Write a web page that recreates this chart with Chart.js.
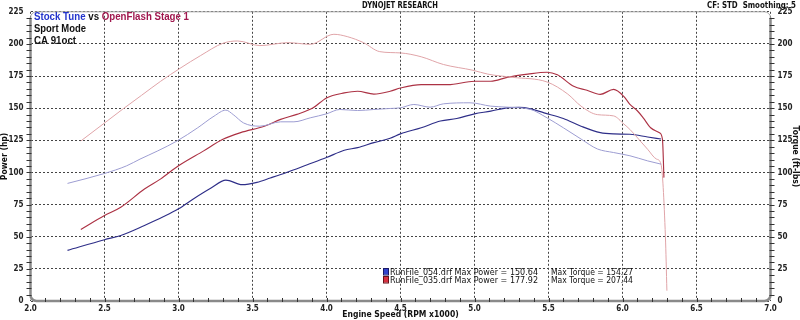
<!DOCTYPE html>
<html>
<head>
<meta charset="utf-8">
<script src="https://cdn.jsdelivr.net/npm/chart.js@4.4.1/dist/chart.umd.min.js"></script>
<style>
    html, body { margin: 0; padding: 0; background: #ffffff; }
    #Dyno_Chart { display: block; }
</style>
</head>
<body>
<canvas id="Dyno_Chart" width="800" height="320"></canvas>
<script>
// engine speed (RPM x1000) and readings
const Stock_Hp_Rpm = [2.25, 2.5, 2.61, 2.77, 2.9, 3.0, 3.1, 3.22, 3.32, 3.43, 3.53, 3.62, 3.73, 3.87, 4.0, 4.12, 4.21, 4.32, 4.43, 4.5, 4.64, 4.77, 4.88, 5.0, 5.11, 5.22, 5.3, 5.38, 5.47, 5.6, 5.72, 5.85, 5.94, 6.05, 6.17, 6.26];
const Stock_Hp = [39.4, 47.7, 51, 58.8, 65.7, 71.7, 79.4, 87.9, 94.1, 90.5, 92.3, 95.7, 100, 106, 111.6, 117.3, 119.3, 123.2, 126.6, 130, 134.8, 140, 142, 145.6, 147.7, 150.3, 150.6, 149.5, 146.4, 142, 136, 131, 130, 129.7, 127.6, 126];

const Stock_Tq_Rpm = [2.25, 2.5, 2.65, 2.74, 2.86, 2.99, 3.13, 3.24, 3.32, 3.37, 3.44, 3.55, 3.69, 3.78, 3.89, 4.0, 4.09, 4.21, 4.32, 4.43, 4.5, 4.59, 4.7, 4.79, 4.97, 5.11, 5.22, 5.38, 5.49, 5.6, 5.72, 5.83, 5.94, 6.05, 6.17, 6.26];
const Stock_Tq = [91.5, 99.2, 105.2, 110.4, 116.8, 124.5, 134.8, 143.8, 148.5, 145, 138.5, 136, 139.4, 139.4, 142.5, 145.6, 149, 148.2, 149, 149.8, 150.3, 152.9, 150.8, 153.4, 154.2, 151.6, 150.8, 149, 142.5, 134.8, 126, 118.3, 115.5, 113, 109, 106.5];

const Flash_Hp_Rpm = [2.34, 2.5, 2.61, 2.77, 2.88, 3.0, 3.17, 3.3, 3.42, 3.58, 3.69, 3.8, 3.91, 4.0, 4.12, 4.21, 4.32, 4.43, 4.5, 4.64, 4.82, 5.0, 5.11, 5.22, 5.36, 5.49, 5.56, 5.67, 5.76, 5.85, 5.94, 6.01, 6.05, 6.1, 6.14, 6.19, 6.25, 6.27, 6.28];
const Flash_Hp = [55.7, 66.5, 72.9, 87.1, 95, 105.2, 116.8, 125.8, 131, 136, 141.3, 145.2, 150.3, 158, 161.9, 163.2, 161, 163.2, 165.7, 168.3, 168.3, 171, 171, 174, 176.5, 178, 176, 167, 164, 160.8, 164.6, 159, 152.9, 148, 142.5, 134.8, 130.9, 125.8, 96];

const Flash_Tq_Rpm = [2.34, 2.49, 2.62, 2.75, 2.88, 3.01, 3.15, 3.3, 3.4, 3.55, 3.74, 3.89, 4.05, 4.14, 4.25, 4.36, 4.5, 4.64, 4.79, 4.99, 5.09, 5.26, 5.49, 5.63, 5.72, 5.83, 5.94, 6.01, 6.05, 6.12, 6.17, 6.23, 6.26, 6.29, 6.3];
const Flash_Tq = [124.5, 137.6, 149, 160, 171, 181, 191, 200.5, 202.3, 198.7, 201, 199.7, 207.5, 205.7, 201, 194, 193, 190, 184, 179.5, 176.5, 174, 170.4, 161, 151.6, 145, 144, 137.6, 133.5, 124.5, 118, 110.4, 106.5, 50, 8];

// axis ticks
const Rpm_Ticks = [2.0, 2.5, 3.0, 3.5, 4.0, 4.5, 5.0, 5.5, 6.0, 6.5, 7.0];
const Power_Ticks = [0, 25, 50, 75, 100, 125, 150, 175, 200, 225];

// legend rows
const Run_Files = ["RunFile_054.drf", "RunFile_035.drf"];
const Max_Power = [150.64, 177.92];
const Max_Torque = [154.27, 207.44];
const Notes = ["Sport Mode", "CA 91oct"];

function Pick_Font(Candidates, Fallback) {
    const Ctx = document.createElement("canvas").getContext("2d");
    const Sample = "Engine 0123 Speed";
    Ctx.font = "bold 20px monospace";
    const Base = Ctx.measureText(Sample).width;
    for (const Name of Candidates) {
        Ctx.font = 'bold 20px "' + Name + '", monospace';
        if (Ctx.measureText(Sample).width !== Base) return '"' + Name + '", "DejaVu Sans", sans-serif';
    }
    return Fallback;
}

const Narrow_Font = Pick_Font(["DejaVu Sans Condensed", "Liberation Sans Narrow"], '"DejaVu Sans", sans-serif');

// draws a run of coloured pieces, squeezed sideways to fit Width
function Draw_Fit(Ctx, Parts, X, Y, Font, Width, Align) {
    Ctx.font = Font;
    let Total = 0;
    for (const P of Parts) Total += Ctx.measureText(P[0]).width;
    const Sx = Width ? Math.min(1, Width / Total) : 1;
    let Start = X;
    if (Align === "center") Start = X - Total * Sx / 2;
    if (Align === "right") Start = X - Total * Sx;
    Ctx.save();
    Ctx.translate(Start, Y);
    Ctx.scale(Sx, 1);
    Ctx.textBaseline = "alphabetic";
    Ctx.textAlign = "left";
    let Cx = 0;
    for (const P of Parts) {
        Ctx.fillStyle = P[1];
        Ctx.fillText(P[0], Cx, 0);
        Cx += Ctx.measureText(P[0]).width;
    }
    Ctx.restore();
}

const Frame_Plugin = {
    id: "dyno_frame",
    afterDraw(Chart_Obj) {
        const Ctx = Chart_Obj.ctx;
        const A = Chart_Obj.chartArea;
        const X = Chart_Obj.scales.x;
        const Y = Chart_Obj.scales.y;
        Ctx.save();

        // thin outline with rounded corners
        Ctx.strokeStyle = "#a0a0a0";
        Ctx.lineWidth = 1;
        Ctx.beginPath();
        Ctx.roundRect(A.left, A.top, A.right - A.left, A.bottom - A.top, 6);
        Ctx.stroke();

        // heavy grey axes
        Ctx.strokeStyle = "#8a8a8a";
        Ctx.lineWidth = 2.5;
        Ctx.beginPath();
        Ctx.moveTo(A.left, A.top + 6);
        Ctx.arcTo(A.left, A.bottom, A.left + 6, A.bottom, 6);
        Ctx.arcTo(A.right, A.bottom, A.right, A.bottom - 6, 6);
        Ctx.lineTo(A.right, A.top + 6);
        Ctx.stroke();

        // minor ticks
        Ctx.strokeStyle = "#333333";
        Ctx.lineWidth = 1;
        Ctx.beginPath();
        for (let V = Y.min + 5; V < Y.max; V += 5) {
            const Py = Math.round(Y.getPixelForValue(V)) + 0.5;
            Ctx.moveTo(A.left - 4, Py); Ctx.lineTo(A.left + 1, Py);
            Ctx.moveTo(A.right - 1, Py); Ctx.lineTo(A.right + 4, Py);
        }
        for (let I = 1; I < 50; I++) {
            const Px = Math.round(X.getPixelForValue(X.min + I * 0.1)) + 0.5;
            Ctx.moveTo(Px, A.bottom - 3); Ctx.lineTo(Px, A.bottom + 1);
        }
        Ctx.stroke();

        // header texts
        Draw_Fit(Ctx, [["DYNOJET RESEARCH", "#111"]], 400, 8, "bold 8px 'DejaVu Sans'", 76, "center");
        Draw_Fit(Ctx, [["CF: STD  Smoothing: 5", "#111"]], 707, 8, "bold 8px 'DejaVu Sans'", 89, "left");

        // run description in the corner
        const Note_Font = "bold 11px 'Liberation Sans', Arial, sans-serif";
        Draw_Fit(Ctx, [["Stock Tune", "#2233cc"], [" vs ", "#111"], ["OpenFlash Stage 1", "#a0184e"]], 34, 19.5, Note_Font, 155, "left");
        Draw_Fit(Ctx, [[Notes[0], "#111"]], 34, 31.5, Note_Font, 52, "left");
        Draw_Fit(Ctx, [[Notes[1], "#111"]], 34, 43.5, Note_Font, 42, "left");

        // run legend
        const Box_Colors = [["#3344cc", "#1a1a66"], ["#d83040", "#661018"]];
        const Leg_Font = "8.5px 'DejaVu Sans', sans-serif";
        for (let I = 0; I < Run_Files.length; I++) {
            const By = 274.5 + I * 8;
            Ctx.fillStyle = Box_Colors[I][0];
            Ctx.strokeStyle = Box_Colors[I][1];
            Ctx.fillRect(384, By - 5.5, 4, 5.5);
            Ctx.strokeRect(383.5, By - 6, 5, 6.5);
            Draw_Fit(Ctx, [[Run_Files[I] + " Max Power = " + Max_Power[I].toFixed(2), "#111"]], 390, By, Leg_Font, 148, "left");
            Draw_Fit(Ctx, [["Max Torque = " + Max_Torque[I].toFixed(2), "#111"]], 551, By, Leg_Font, 82, "left");
        }
        Ctx.restore();
    }
};

function Make_Series(Label, Rpm, Values, Color, Width, Axis) {
    return {
        label: Label,
        data: Rpm.map(function (R, I) { return { x: R, y: Values[I] }; }),
        borderColor: Color,
        borderWidth: Width,
        pointRadius: 0,
        fill: false,
        cubicInterpolationMode: "monotone",
        yAxisID: Axis
    };
}

const Tick_Font = { family: Narrow_Font, size: 8, weight: "bold" };
const Title_Font = { family: Narrow_Font, size: 8.5, weight: "bold" };

new Chart(document.getElementById("Dyno_Chart"), {
    type: "line",
    data: {
        datasets: [
            Make_Series("Stock Torque", Stock_Tq_Rpm, Stock_Tq, "#9d9dd2", 1, "y2"),
            Make_Series("OpenFlash Torque", Flash_Tq_Rpm, Flash_Tq, "#e0a4a8", 1, "y2"),
            Make_Series("Stock Power", Stock_Hp_Rpm, Stock_Hp, "#2e2e88", 1.15, "y"),
            Make_Series("OpenFlash Power", Flash_Hp_Rpm, Flash_Hp, "#ac3244", 1.15, "y")
        ]
    },
    options: {
        responsive: false,
        animation: false,
        devicePixelRatio: 1,
        layout: { padding: { top: 11.5, left: 0, right: 0, bottom: 0 } },
        plugins: { legend: { display: false }, tooltip: { enabled: false } },
        scales: {
            x: {
                type: "linear",
                min: Rpm_Ticks[0],
                max: Rpm_Ticks[Rpm_Ticks.length - 1],
                afterBuildTicks: function (S) { S.ticks = Rpm_Ticks.map(function (V) { return { value: V }; }); },
                afterFit: function (S) { S.height = 19; },
                ticks: {
                    autoSkip: false, maxRotation: 0, padding: 3, color: "#222",
                    font: Tick_Font,
                    callback: function (V) { return Number(V).toFixed(1); }
                },
                grid: { color: "#444", lineWidth: 1, drawTicks: false },
                border: { display: false, dash: [2, 2] },
                title: { display: true, text: "Engine Speed (RPM x1000)", color: "#111", font: Title_Font, padding: 0 }
            },
            y: {
                position: "left",
                min: Power_Ticks[0],
                max: Power_Ticks[Power_Ticks.length - 1],
                afterBuildTicks: function (S) { S.ticks = Power_Ticks.map(function (V) { return { value: V }; }); },
                afterFit: function (S) { S.width = 30.5; },
                ticks: { padding: 7, color: "#222", font: Tick_Font },
                grid: { color: "#444", lineWidth: 1, drawTicks: false },
                border: { display: false, dash: [2, 2] },
                title: { display: true, text: "Power (hp)", color: "#111", font: Title_Font, padding: 0 }
            },
            y2: {
                position: "right",
                min: Power_Ticks[0],
                max: Power_Ticks[Power_Ticks.length - 1],
                afterBuildTicks: function (S) { S.ticks = Power_Ticks.map(function (V) { return { value: V }; }); },
                afterFit: function (S) { S.width = 29.5; },
                ticks: { padding: 7, color: "#222", font: Tick_Font },
                grid: { display: false, drawTicks: false },
                border: { display: false },
                title: { display: true, text: "Torque (ft-lbs)", color: "#111", font: Title_Font, padding: 0 }
            }
        }
    },
    plugins: [Frame_Plugin]
});
</script>
</body>
</html>
